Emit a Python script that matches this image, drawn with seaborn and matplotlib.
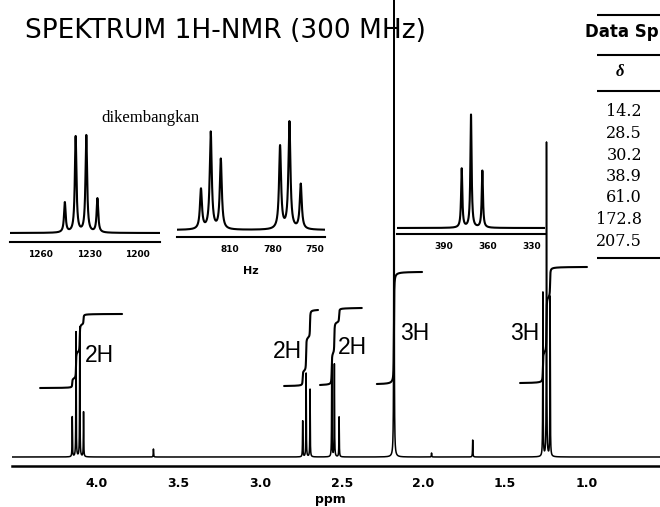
import numpy as np
import pandas as pd
import seaborn as sns
import matplotlib.pyplot as plt
from matplotlib.ticker import MultipleLocator

sns.set_style("white")
plt.rcParams['font.family'] = ['DejaVu Sans']
plt.rcParams['text.color'] = 'black'
plt.rcParams['axes.labelcolor'] = 'black'
plt.rcParams['xtick.color'] = 'black'
plt.rcParams['axes.edgecolor'] = 'black'

W, H = 660, 507

# main 1H spectrum: peak positions (ppm) and heights above baseline
peak_ppm = [4.150, 4.127, 4.104, 4.081, 3.653, 2.739, 2.718, 2.694,
            2.561, 2.545, 2.516, 2.180, 1.950, 1.698, 1.268, 1.246, 1.224]
peak_height = [40, 125, 130, 45, 8, 36, 84, 68,
               93, 93, 40, 520, 4, 17, 164, 314, 160]

# integration traces: region (ppm), start and end level
integral_from = [4.347, 2.853, 2.633, 2.285, 1.408]
integral_to = [3.845, 2.645, 2.377, 2.008, 0.998]
integral_low = [78, 80, 81, 82, 83]
integral_high = [152, 156, 158, 194, 199]
integral_labels = ["2H", "2H", "2H", "3H", "3H"]
label_pos = [(3.986, 110), (2.835, 114), (2.436, 118), (2.050, 133), (1.377, 133)]

# expanded multiplets (Hz)
quartet_hz = [1245.0, 1238.3, 1231.7, 1224.8]
quartet_h = [30, 96, 97, 34]
triplets_hz = [830.5, 823.6, 816.5, 774.7, 768.1, 760.1]
triplets_h = [40, 97, 70, 83, 107, 45]
methyl_hz = [377.5, 371.2, 363.5]
methyl_h = [59, 113, 57]

# 13C data table
c13_shift = ["14.2", "28.5", "30.2", "38.9", "61.0", "172.8", "207.5"]


def lorentz(x, centers, heights, fwhm):
    g = fwhm / 2
    y = np.zeros_like(x)
    for c, h in zip(centers, heights):
        y += h * g ** 2 / ((x - c) ** 2 + g ** 2)
    return y


fig = plt.figure(figsize=(W / 100, H / 100), dpi=100)


def px_axes(left, top, right, bottom):
    a = fig.add_axes([left / W, 1 - bottom / H, (right - left) / W, (bottom - top) / H])
    a.set_facecolor("none")
    for s in ["top", "left", "right"]:
        a.spines[s].set_visible(False)
    a.set_yticks([])
    return a


# ---- main spectrum ----
ax = px_axes(12, 0, 660, 466)
grid = np.linspace(4.519, 0.551, 20001)
spec = lorentz(grid, peak_ppm, peak_height, 0.0025)
df = pd.DataFrame({"ppm": grid, "signal": spec + 9})
sns.lineplot(data=df, x="ppm", y="signal", ax=ax, color="black",
             linewidth=1.1, estimator=None, sort=False)

for x0, x1, lo, hi in zip(integral_from, integral_to, integral_low, integral_high):
    m = (grid <= x0) & (grid >= x1)
    cum = np.cumsum(spec[m])
    idf = pd.DataFrame({"ppm": grid[m], "level": lo + (hi - lo) * cum / cum[-1]})
    sns.lineplot(data=idf, x="ppm", y="level", ax=ax, color="black",
                 linewidth=1.5, estimator=None, sort=False)

for lab, (px, py) in zip(integral_labels, label_pos):
    ax.text(px, py, lab, ha="center", va="center", fontsize=16.5,
            family="Liberation Sans")

ax.set_xlim(4.519, 0.551)
ax.set_ylim(0, 466)
ax.spines["bottom"].set_linewidth(1.8)
major = [4.0, 3.5, 3.0, 2.5, 2.0, 1.5, 1.0]
ax.set_xticks(major, [f"{v:.1f}" for v in major], fontsize=9, fontweight="bold")
ax.xaxis.set_minor_locator(MultipleLocator(0.1))
ax.tick_params(axis="x", which="major", direction="out", length=5, width=1.2, pad=3)
ax.tick_params(axis="x", which="minor", direction="out", length=3, width=1.0)
ax.set_ylabel("")
ax.set_xlabel("ppm", fontsize=9, fontweight="bold")
ax.xaxis.set_label_coords((330 - 12) / 648, -0.058)


# ---- expansions ----
def inset(box, xlim, centers, heights, fwhm, base, labels, xlabel=None):
    a = px_axes(*box)
    g = np.linspace(xlim[0], xlim[1], 3000)
    d = pd.DataFrame({"hz": g, "signal": lorentz(g, centers, heights, fwhm) + base})
    sns.lineplot(data=d, x="hz", y="signal", ax=a, color="black",
                 linewidth=1.5, estimator=None, sort=False)
    a.set_xlim(*xlim)
    a.set_ylim(0, box[3] - box[1])
    a.spines["bottom"].set_linewidth(1.5)
    a.set_xticks(labels, [str(v) for v in labels], fontsize=6.5, fontweight="bold")
    a.xaxis.set_minor_locator(MultipleLocator(10))
    a.tick_params(axis="x", which="both", direction="out", length=3, width=1.0, pad=2.5)
    a.set_ylabel("")
    a.set_xlabel(xlabel or "", fontsize=8, fontweight="bold", labelpad=9)
    return a


inset((10, 100, 160, 242), (1279, 1186), quartet_hz, quartet_h, 1.2, 9, [1260, 1230, 1200])
inset((177, 100, 325, 237), (847.4, 743), triplets_hz, triplets_h, 1.7, 7, [810, 780, 750], "Hz")
inset((397, 100, 545, 234), (421.4, 321), methyl_hz, methyl_h, 1.0, 6, [390, 360, 330])

fig.text(150 / W, 1 - 118 / H, "dikembangkan", ha="center", va="center",
         fontsize=12, family="Liberation Serif")
fig.text(25 / W, 1 - 31 / H, "SPEKTRUM 1H-NMR (300 MHz)", ha="left", va="center",
         fontsize=19)

# ---- 13C table ----
tax = fig.add_axes([560 / W, 1 - 270 / H, 100 / W, 270 / H])
tax.set_xlim(560, 660)
tax.set_ylim(270, 0)
tax.axis("off")
tax.hlines([15, 55, 91, 258], 597, 660, color="black", linewidth=1.5)
tax.text(585, 32, "Data Sp", ha="left", va="center", fontsize=12, fontweight="bold")
tax.text(620, 72, "δ", ha="center", va="center", fontsize=12, fontweight="bold",
         style="italic", family="Liberation Serif")
for i, v in enumerate(c13_shift):
    tax.text(642, 112 + i * 21.5, v, ha="right", va="center", fontsize=11.5,
             family="DejaVu Serif")

fig.savefig("out.png", dpi=100)
